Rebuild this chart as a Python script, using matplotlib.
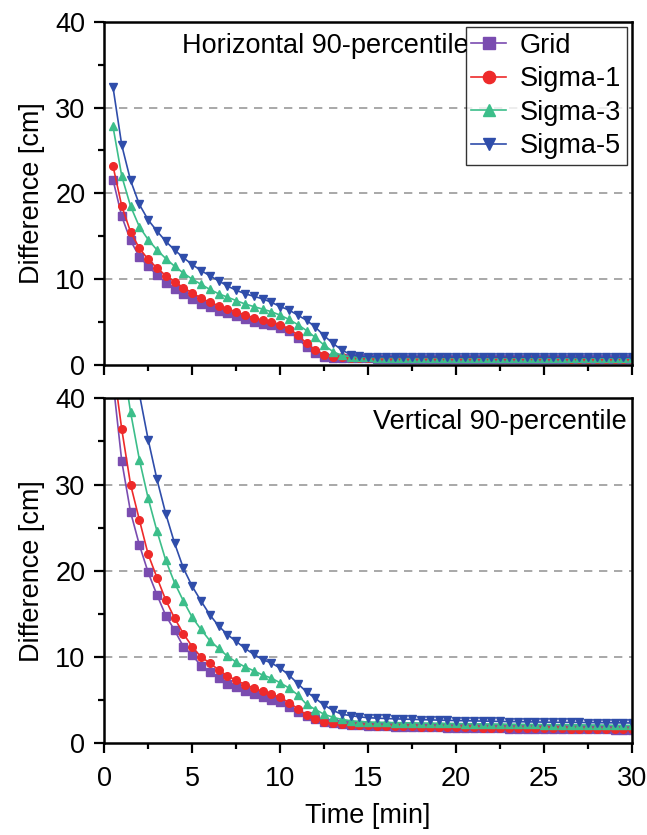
import numpy as np
import matplotlib
matplotlib.use("Agg")
import matplotlib.pyplot as plt

plt.rcParams['font.family'] = ['Liberation Sans', 'DejaVu Sans']

time_min = np.arange(0.5, 30.01, 0.5)  # 60 muestras, cada 30 s

# horizontal 90-percentil [cm]
grid_h = [21.6, 17.3, 14.5, 12.6, 11.5, 10.5, 9.6, 8.9, 8.3, 7.7,
          7.1, 6.7, 6.3, 6.0, 5.7, 5.3, 5.05, 4.8, 4.6, 4.35,
          3.9, 3.1, 2.1, 1.35, 0.97, 0.85, 0.8, 0.78, 0.76, 0.75,
          0.74, 0.74, 0.73, 0.73, 0.73, 0.72, 0.72, 0.72, 0.72, 0.71,
          0.71, 0.71, 0.71, 0.71, 0.7, 0.7, 0.7, 0.7, 0.7, 0.7,
          0.7, 0.7, 0.7, 0.69, 0.69, 0.69, 0.69, 0.69, 0.69, 0.69]
sigma1_h = [23.2, 18.5, 15.5, 13.6, 12.3, 11.3, 10.4, 9.7, 9.0, 8.4,
            7.8, 7.3, 6.9, 6.5, 6.2, 5.8, 5.5, 5.2, 5.0, 4.7,
            4.2, 3.5, 2.5, 1.75, 1.2, 0.97, 0.9, 0.85, 0.82, 0.8,
            0.79, 0.79, 0.78, 0.78, 0.78, 0.77, 0.77, 0.77, 0.77, 0.76,
            0.76, 0.76, 0.76, 0.76, 0.75, 0.75, 0.75, 0.75, 0.75, 0.75,
            0.75, 0.75, 0.74, 0.74, 0.74, 0.74, 0.74, 0.74, 0.74, 0.74]
sigma3_h = [27.8, 22.0, 18.5, 16.1, 14.6, 13.4, 12.4, 11.5, 10.7, 10.0,
            9.4, 8.8, 8.3, 7.9, 7.5, 7.1, 6.8, 6.5, 6.2, 5.8,
            5.3, 4.7, 4.0, 3.2, 2.3, 1.55, 1.1, 0.95, 0.9, 0.87,
            0.86, 0.85, 0.85, 0.84, 0.84, 0.83, 0.83, 0.83, 0.82, 0.82,
            0.82, 0.82, 0.81, 0.81, 0.81, 0.81, 0.81, 0.8, 0.8, 0.8,
            0.8, 0.8, 0.8, 0.8, 0.8, 0.79, 0.79, 0.79, 0.79, 0.79]
sigma5_h = [32.4, 25.6, 21.5, 18.7, 16.9, 15.6, 14.4, 13.4, 12.5, 11.7,
            11.0, 10.4, 9.8, 9.2, 8.7, 8.3, 8.0, 7.7, 7.3, 6.8,
            6.4, 5.8, 5.2, 4.4, 3.4, 2.5, 1.75, 1.2, 1.0, 0.95,
            0.94, 0.93, 0.93, 0.92, 0.92, 0.91, 0.91, 0.91, 0.9, 0.9,
            0.9, 0.9, 0.9, 0.89, 0.89, 0.89, 0.89, 0.89, 0.89, 0.88,
            0.88, 0.88, 0.88, 0.88, 0.88, 0.88, 0.88, 0.87, 0.87, 0.87]

# vertical 90-percentil [cm]
grid_v = [42.0, 32.7, 26.8, 23.0, 19.8, 17.2, 14.8, 13.1, 11.2, 10.2,
          9.0, 8.2, 7.6, 6.9, 6.5, 6.1, 5.75, 5.35, 5.05, 4.75,
          4.2, 3.6, 3.1, 2.75, 2.45, 2.3, 2.2, 2.1, 2.05, 2.0,
          1.98, 1.95, 1.93, 1.9, 1.88, 1.86, 1.84, 1.82, 1.8, 1.78,
          1.76, 1.75, 1.73, 1.72, 1.7, 1.69, 1.68, 1.67, 1.66, 1.65,
          1.64, 1.63, 1.62, 1.61, 1.6, 1.6, 1.59, 1.58, 1.58, 1.57]
sigma1_v = [44.0, 36.4, 30.0, 25.9, 21.9, 19.2, 16.6, 14.5, 12.7, 11.2,
            10.0, 9.3, 8.5, 7.8, 7.3, 6.8, 6.4, 6.0, 5.7, 5.3,
            4.7, 4.0, 3.25, 2.85, 2.5, 2.35, 2.25, 2.15, 2.1, 2.05,
            2.02, 2.0, 1.98, 1.96, 1.94, 1.92, 1.9, 1.88, 1.86, 1.85,
            1.83, 1.82, 1.8, 1.79, 1.78, 1.76, 1.75, 1.74, 1.73, 1.72,
            1.71, 1.7, 1.69, 1.68, 1.67, 1.66, 1.65, 1.64, 1.63, 1.62]
sigma3_v = [55.0, 45.0, 38.4, 32.9, 28.4, 24.6, 21.2, 18.6, 16.5, 14.6,
            13.2, 11.9, 11.0, 10.1, 9.4, 8.85, 8.4, 7.9, 7.55, 7.0,
            6.4, 5.6, 4.5, 3.9, 3.35, 3.0, 2.75, 2.6, 2.5, 2.45,
            2.42, 2.4, 2.38, 2.36, 2.35, 2.33, 2.32, 2.3, 2.29, 2.28,
            2.26, 2.25, 2.24, 2.22, 2.21, 2.2, 2.19, 2.18, 2.17, 2.16,
            2.15, 2.14, 2.13, 2.12, 2.11, 2.1, 2.09, 2.08, 2.07, 2.06]
sigma5_v = [65.0, 55.0, 47.0, 40.5, 35.2, 30.6, 26.6, 23.2, 20.3, 18.2,
            16.5, 14.9, 13.6, 12.6, 11.8, 11.0, 10.3, 9.7, 9.3, 8.7,
            7.9, 6.9, 5.95, 5.2, 4.4, 3.8, 3.35, 3.2, 3.05, 2.95,
            2.9, 2.86, 2.82, 2.79, 2.76, 2.73, 2.7, 2.67, 2.64, 2.62,
            2.6, 2.58, 2.56, 2.54, 2.52, 2.5, 2.49, 2.47, 2.46, 2.44,
            2.43, 2.42, 2.41, 2.4, 2.39, 2.38, 2.37, 2.36, 2.35, 2.34]

series_names = ['Grid', 'Sigma-1', 'Sigma-3', 'Sigma-5']
colores = ['#7a4cb0', '#ee2a2a', '#3cbe8a', '#2f4daa']
marcadores = ['s', 'o', '^', 'v']

fig = plt.figure(figsize=[6.47, 8.35], dpi=100)
ax1 = fig.add_axes([0.161, 0.563, 0.816, 0.411])
ax2 = fig.add_axes([0.161, 0.110, 0.816, 0.413])

fs = 19.5

for ax, datos, titulo, ha_x in [
        (ax1, [grid_h, sigma1_h, sigma3_h, sigma5_h], 'Horizontal 90-percentile', 0.69),
        (ax2, [grid_v, sigma1_v, sigma3_v, sigma5_v], 'Vertical 90-percentile', 0.99)]:
    for y, nombre, c, m in zip(datos, series_names, colores, marcadores):
        ax.plot(time_min, y, color=c, marker=m, markersize=5.5, linewidth=1.2,
                label=nombre)
    ax.set_xlim(0, 30)
    ax.set_ylim(0, 40)
    ax.set_xticks([0, 5, 10, 15, 20, 25, 30])
    ax.set_xticks(np.arange(0, 30.1, 2.5), minor=True)
    ax.set_yticks([0, 10, 20, 30, 40])
    ax.set_yticks([5, 15, 25, 35], minor=True)
    for yy in [10, 20, 30]:
        ax.axhline(yy, color='#9a9a9a', linestyle=(0, (5, 4)), linewidth=1.2, zorder=0)
    ax.tick_params(which='major', direction='out', length=7.5, width=1.6,
                   labelsize=fs, pad=6, top=False, right=False)
    ax.tick_params(which='minor', direction='out', length=4, width=1.6,
                   top=False, right=False)
    for s in ax.spines.values():
        s.set_linewidth(1.8)
    ax.set_ylabel('Difference [cm]', fontsize=fs, labelpad=7)
    ax.text(ha_x, 0.93, titulo, transform=ax.transAxes, fontsize=fs,
            ha='right', va='center')

ax1.set_xticklabels([])
ax2.tick_params(axis='x', pad=9)
ax2.set_xlabel('Time [min]', fontsize=fs, labelpad=8)

leg = ax1.legend(loc='upper right', fontsize=fs, frameon=True, fancybox=False,
                 edgecolor='black', borderpad=0.2, labelspacing=0.28,
                 handlelength=1.3, handletextpad=0.5, borderaxespad=0.2,
                 markerscale=1.6)
leg.get_frame().set_linewidth(1.0)

fig.savefig('out.png', dpi=100)
